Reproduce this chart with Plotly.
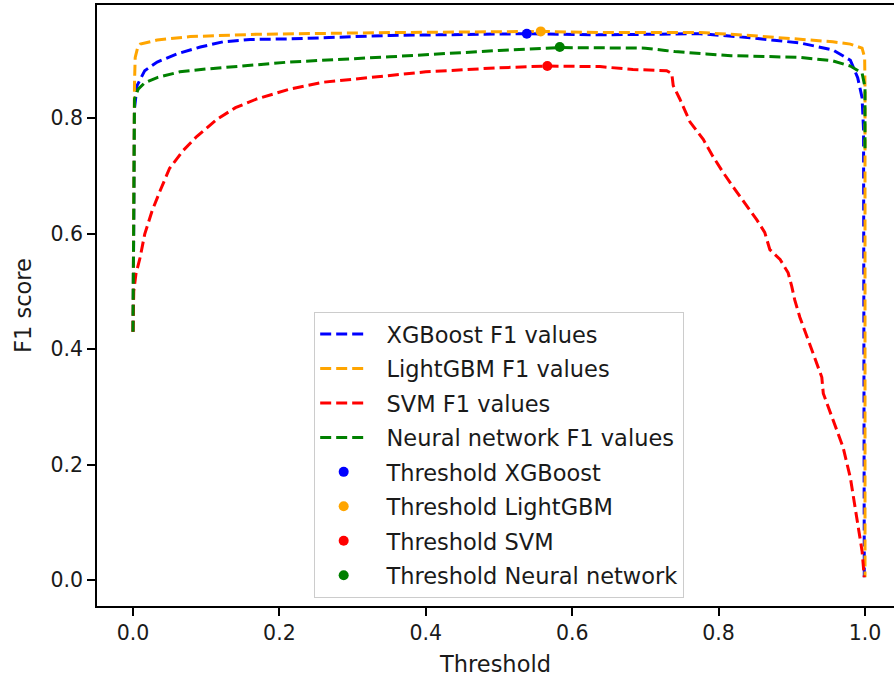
import plotly.graph_objects as go

# F1 score as a function of the decision threshold, per model
xgb_thr = [0, 0.0005, 0.001, 0.002, 0.0055, 0.016, 0.033, 0.06, 0.092, 0.123, 0.16, 0.214,
           0.351, 0.45, 0.538, 0.638, 0.775, 0.843, 0.911, 0.956, 0.98, 0.990, 0.996, 0.998,
           0.9985, 0.999]
xgb_f1 = [0.43, 0.60, 0.75, 0.816, 0.856, 0.882, 0.897, 0.911, 0.923, 0.932, 0.936, 0.937,
          0.943, 0.944, 0.946, 0.944, 0.946, 0.939, 0.930, 0.918, 0.900, 0.870, 0.835, 0.78,
          0.40, 0.005]

lgb_thr = [0, 0.0005, 0.001, 0.002, 0.003, 0.006, 0.01, 0.033, 0.078, 0.169, 0.351, 0.557,
           0.638, 0.775, 0.843, 0.911, 0.956, 0.98, 0.996, 0.9995, 1.0, 1.0]
lgb_f1 = [0.43, 0.65, 0.80, 0.86, 0.905, 0.92, 0.928, 0.935, 0.941, 0.945, 0.948, 0.950,
          0.948, 0.948, 0.943, 0.936, 0.932, 0.928, 0.921, 0.905, 0.85, 0.005]

svm_thr = [0, 0.001, 0.004, 0.0096, 0.016, 0.026, 0.037, 0.05, 0.068, 0.087, 0.115, 0.14,
           0.169, 0.214, 0.26, 0.306, 0.351, 0.4, 0.5, 0.566, 0.638, 0.683, 0.729, 0.736,
           0.738, 0.747, 0.761, 0.779, 0.792, 0.806, 0.822, 0.839, 0.852, 0.863, 0.870,
           0.884, 0.895, 0.900, 0.904, 0.911, 0.921, 0.929, 0.941, 0.943, 0.956, 0.970,
           0.980, 0.989, 0.996, 0.999]
svm_f1 = [0.43, 0.50, 0.53, 0.558, 0.599, 0.639, 0.674, 0.713, 0.743, 0.768, 0.798, 0.818,
          0.833, 0.850, 0.862, 0.868, 0.873, 0.880, 0.887, 0.890, 0.889, 0.884, 0.882, 0.877,
          0.856, 0.833, 0.793, 0.763, 0.734, 0.706, 0.677, 0.647, 0.624, 0.602, 0.572,
          0.555, 0.532, 0.508, 0.485, 0.455, 0.421, 0.393, 0.351, 0.323, 0.277, 0.230,
          0.177, 0.108, 0.050, 0.005]

nn_thr = [0, 0.0005, 0.001, 0.002, 0.007, 0.016, 0.033, 0.064, 0.101, 0.146, 0.214, 0.351,
          0.4, 0.5, 0.583, 0.638, 0.700, 0.727, 0.740, 0.783, 0.817, 0.911, 0.956, 0.98,
          0.996, 1.0, 1.0]
nn_f1 = [0.43, 0.60, 0.75, 0.833, 0.850, 0.861, 0.870, 0.880, 0.885, 0.890, 0.897, 0.906,
         0.910, 0.917, 0.922, 0.922, 0.921, 0.917, 0.915, 0.911, 0.908, 0.905, 0.899, 0.890,
         0.878, 0.853, 0.746]

# Best threshold per model
best_names = ["XGBoost", "LightGBM", "SVM", "Neural network"]
best_thr = [0.538, 0.557, 0.566, 0.583]
best_f1 = [0.946, 0.950, 0.890, 0.923]

colors = ["blue", "orange", "red", "green"]
curves = [(xgb_thr, xgb_f1), (lgb_thr, lgb_f1), (svm_thr, svm_f1), (nn_thr, nn_f1)]

font_family = "DejaVu Sans"
text_color = "#1a1a1a"
pad = "\u00a0\u00a0"  # gap between legend symbol and label

fig = go.Figure()
for i, (name, col, (tx, fy)) in enumerate(zip(best_names, colors, curves)):
    fig.add_trace(go.Scatter(
        x=tx, y=fy, mode="lines", name=f"{pad}{name} F1 values",
        line=dict(color=col, width=3, dash="11px,5px"),
        legendgroup=f"line{i}",
    ))
for i, (name, col) in enumerate(zip(best_names, colors)):
    fig.add_trace(go.Scatter(
        x=[best_thr[i]], y=[best_f1[i]], mode="markers", name=f"{pad}Threshold {name}",
        marker=dict(color=col, size=10, line=dict(width=0)),
        legendgroup=f"pt{i}",
    ))

fig.update_layout(
    width=894, height=679,
    margin=dict(l=97, r=0, t=5, b=73),
    paper_bgcolor="white", plot_bgcolor="white",
    font=dict(family=font_family, size=20.5, color=text_color),
    showlegend=True,
    legend=dict(
        x=0.2725, y=0.4893, xanchor="left", yanchor="top",
        bgcolor="rgba(255,255,255,0.85)", bordercolor="#cccccc", borderwidth=1,
        font=dict(family=font_family, size=22.5, color=text_color),
        tracegroupgap=2.2, itemwidth=47, traceorder="grouped",
    ),
)
fig.update_xaxes(
    range=[-0.0492, 1.0396], tickvals=[0, 0.2, 0.4, 0.6, 0.8, 1.0],
    ticktext=["0.0", "0.2", "0.4", "0.6", "0.8", "1.0"],
    tickfont=dict(size=20.5),
    showgrid=False, zeroline=False, showline=True, linecolor="black", linewidth=1.6,
    mirror=True, ticks="outside", ticklen=8, tickwidth=1.6, tickcolor="black",
    title=dict(text="Threshold", standoff=12, font=dict(size=22.5)),
)
fig.update_yaxes(
    range=[-0.045, 0.9957], tickvals=[0, 0.2, 0.4, 0.6, 0.8],
    ticktext=["0.0", "0.2", "0.4", "0.6", "0.8"],
    tickfont=dict(size=20.5),
    showgrid=False, zeroline=False, showline=True, linecolor="black", linewidth=1.6,
    ticks="outside", ticklen=8, tickwidth=1.6, tickcolor="black",
    title=dict(text="F1 score", standoff=13, font=dict(size=22.5)),
)

fig.write_html("out.html")
